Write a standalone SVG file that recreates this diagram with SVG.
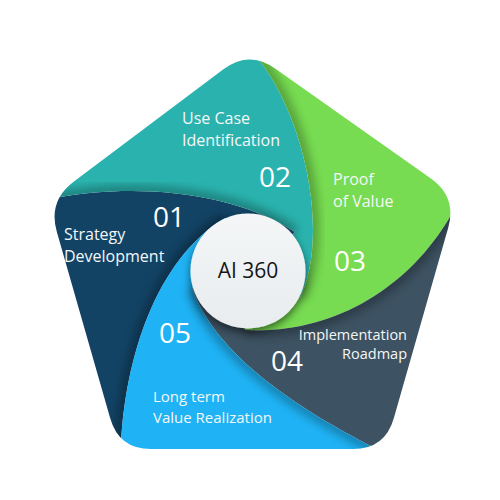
<svg xmlns="http://www.w3.org/2000/svg" xmlns:xlink="http://www.w3.org/1999/xlink" width="500" height="500" viewBox="0 0 500 500">
<style>
.lbl{font-family:"Open Sans","Liberation Sans",sans-serif;font-size:16px;fill:#f4f7f8}
.num{font-family:"Open Sans","Liberation Sans",sans-serif;font-size:28px;font-weight:500;fill:#ffffff}
.ctr{font-family:"Open Sans","Liberation Sans",sans-serif;font-size:21px;fill:#161616}
.shd{fill:none;stroke:#000;stroke-width:12;opacity:0.28;filter:url(#blur)}
</style>
<defs>
<filter id="blur" x="-20%" y="-20%" width="140%" height="140%"><feGaussianBlur stdDeviation="5"/></filter>
<filter id="cs" x="-40%" y="-40%" width="180%" height="180%"><feDropShadow dx="0" dy="4" stdDeviation="4" flood-color="#000" flood-opacity="0.55"/></filter>
<linearGradient id="cg" x1="0" y1="0" x2="0" y2="1"><stop offset="0" stop-color="#f4f6f7"/><stop offset="1" stop-color="#e8ecee"/></linearGradient>
<path id="pent" d="M223.4,69.3 Q249,50 275.1,68.5 L430.9,178.5 Q457,197 448.2,227.8 L393.8,418.2 Q385,449 353,449 L151,449 Q119,449 110.2,418.2 L56.8,231.8 Q48,201 73.6,181.7 Z"/>
<path id="s01" d="M121,445 C125,360 155,260 225,218 L248,271 L295,232 C230,190 130,183 50,199 L0,199 L0,500 L121,500 Z"/>
<path id="s02" d="M50,199 C130,183 230,190 295,232 L248,271 L300,298 C330,235 305,115 256,56 L256,0 L0,0 L0,199 Z"/>
<path id="s03" d="M256,56 C305,115 330,235 300,298 L248,271 L245,330 C330,335 410,290 454,210 L500,210 L500,0 L256,0 Z"/>
<path id="s04" d="M454,210 C410,290 330,335 245,330 L248,271 L192,288 C215,355 300,410 375,448 L375,500 L500,500 L500,210 Z"/>
<path id="s05" d="M375,448 C300,410 215,355 192,288 L248,271 L225,218 C155,260 125,360 121,445 L121,500 L375,500 Z"/>
<clipPath id="cpPent"><use xlink:href="#pent"/></clipPath>
<clipPath id="c01"><use xlink:href="#s01"/></clipPath>
<clipPath id="c02"><use xlink:href="#s02"/></clipPath>
<clipPath id="c03"><use xlink:href="#s03"/></clipPath>
<clipPath id="c04"><use xlink:href="#s04"/></clipPath>
<clipPath id="c05"><use xlink:href="#s05"/></clipPath>
</defs>
<rect width="500" height="500" fill="#ffffff"/>
<g clip-path="url(#cpPent)">
<g id="seg01"><use xlink:href="#s01" fill="#124365"/></g>
<g id="seg02"><use xlink:href="#s02" fill="#2ab3ae"/></g>
<g id="seg03"><use xlink:href="#s03" fill="#77dc51"/></g>
<g id="seg04"><use xlink:href="#s04" fill="#3d5262"/></g>
<g id="seg05"><use xlink:href="#s05" fill="#1fb3f5"/></g>
<g id="connectors">
<g clip-path="url(#c02)"><path class="shd" d="M50,199 C130,183 230,190 295,232"/></g>
<g clip-path="url(#c03)"><path class="shd" d="M256,56 C305,115 330,235 300,298"/></g>
<g clip-path="url(#c04)"><path class="shd" d="M454,210 C410,290 330,335 245,330"/></g>
<g clip-path="url(#c05)"><path class="shd" d="M375,448 C300,410 215,355 192,288"/></g>
<g clip-path="url(#c01)"><path class="shd" d="M121,445 C125,360 155,260 225,218"/></g>
</g>
</g>
<g id="label01">
<text class="num" x="153" y="227">01</text>
<text class="lbl" x="64" y="240">Strategy</text>
<text class="lbl" x="64" y="262">Development</text>
</g>
<g id="label02">
<text class="lbl" x="182" y="124">Use Case</text>
<text class="lbl" x="182" y="146">Identification</text>
<text class="num" x="259" y="187">02</text>
</g>
<g id="label03">
<text class="lbl" x="333" y="185">Proof</text>
<text class="lbl" x="333" y="207">of Value</text>
<text class="num" x="334" y="271">03</text>
</g>
<g id="label04">
<text class="lbl" x="407" y="340" text-anchor="end" style="font-size:14.5px">Implementation</text>
<text class="lbl" x="407" y="359" text-anchor="end" style="font-size:14.5px">Roadmap</text>
<text class="num" x="271" y="371">04</text>
</g>
<g id="label05">
<text class="num" x="159" y="343">05</text>
<text class="lbl" x="153" y="402" style="font-size:15px">Long term</text>
<text class="lbl" x="153" y="423" style="font-size:15px">Value Realization</text>
</g>
<g id="center">
<circle cx="248" cy="271" r="57.5" fill="url(#cg)" filter="url(#cs)"/>
<text class="ctr" x="248" y="278" text-anchor="middle">AI 360</text>
</g>
</svg>
